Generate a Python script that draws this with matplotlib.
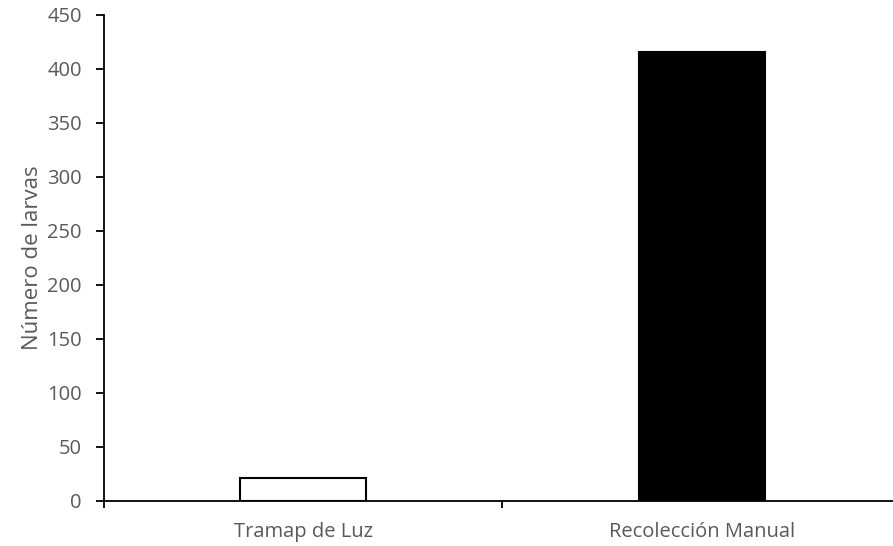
import matplotlib.pyplot as plt
import numpy as np

categories = ["Tramap de Luz", "Recolección Manual"]
larvae = [21, 416]
bar_colors = ["white", "black"]
y_ticks = list(range(0, 451, 50))

plt.rcParams["font.family"] = ["Open Sans", "DejaVu Sans"]
grey = "#595959"

fig = plt.figure(figsize=(8.93, 5.46), dpi=100)
ax = fig.add_axes([104 / 893, 45 / 546, 789 / 893, 486 / 546])

x = np.arange(len(categories))
ax.bar(x, larvae, width=0.316, color=bar_colors, edgecolor="black", linewidth=1.5)

ax.set_yticks(y_ticks)
ax.set_xticks(x)
ax.set_xticklabels(categories)
# category separators, Excel style
ax.set_xticks([-0.5, 0.5], minor=True)
ax.set_xlim(-0.5, 1.48)
ax.set_ylim(0, 450)

ax.tick_params(axis="x", which="major", length=0, pad=15, labelsize=14.5, labelcolor=grey)
ax.tick_params(axis="x", which="minor", length=5, width=1.3, direction="out")
ax.tick_params(axis="y", length=6, width=1.3, direction="out", pad=10,
               labelsize=14.5, labelcolor=grey)

for side in ("top", "right"):
    ax.spines[side].set_visible(False)
for side in ("left", "bottom"):
    ax.spines[side].set_linewidth(1.3)

ax.set_ylabel("Número de larvas", fontsize=16, color=grey, labelpad=3)

fig.savefig("out.png", dpi=100)
